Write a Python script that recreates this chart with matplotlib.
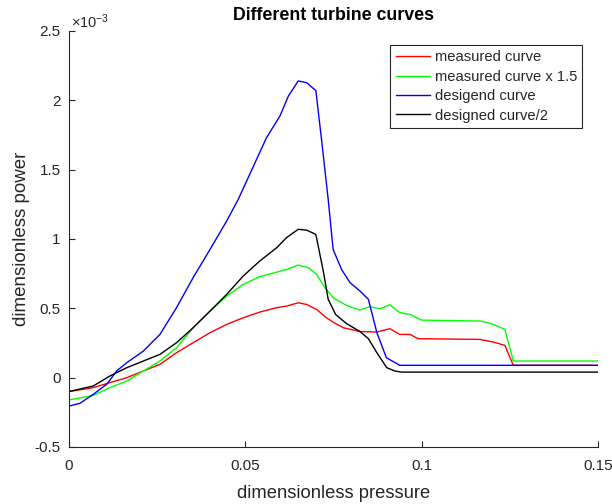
import matplotlib
matplotlib.use("Agg")
import matplotlib.pyplot as plt
from matplotlib.ticker import FuncFormatter

plt.rcParams['font.family'] = ['Liberation Sans', 'DejaVu Sans']
plt.rcParams['axes.unicode_minus'] = False
plt.rcParams['mathtext.fontset'] = 'custom'
plt.rcParams['mathtext.rm'] = 'Liberation Sans'
plt.rcParams['mathtext.it'] = 'Liberation Sans:italic'

# values, power in units of 1e-3
red_x = [0, 0.0069, 0.0116, 0.0164, 0.0211, 0.0258, 0.0305, 0.0352, 0.04, 0.0447,
         0.0494, 0.0541, 0.0589, 0.0617, 0.065, 0.0674, 0.0702, 0.073, 0.0749, 0.0778,
         0.0825, 0.0873, 0.091, 0.0938, 0.0967, 0.099, 0.1165, 0.1203, 0.1236, 0.126, 0.15]
red_y = [-0.10, -0.072, -0.036, 0.0, 0.048, 0.096, 0.18, 0.252, 0.324, 0.384,
         0.432, 0.473, 0.505, 0.516, 0.54, 0.528, 0.492, 0.432, 0.40, 0.36,
         0.333, 0.329, 0.353, 0.312, 0.312, 0.281, 0.276, 0.257, 0.233, 0.089, 0.089]

green_x = [0, 0.0069, 0.0116, 0.0164, 0.0211, 0.0258, 0.0305, 0.0352, 0.04, 0.0447,
           0.0494, 0.0541, 0.0589, 0.0617, 0.065, 0.0679, 0.0702, 0.0726, 0.0749, 0.0787,
           0.0825, 0.0853, 0.0882, 0.091, 0.0938, 0.0967, 0.1, 0.117, 0.1203, 0.1236,
           0.126, 0.15]
green_y = [-0.161, -0.128, -0.072, -0.024, 0.048, 0.12, 0.216, 0.36, 0.48, 0.588,
           0.673, 0.728, 0.761, 0.78, 0.812, 0.793, 0.745, 0.649, 0.577, 0.521,
           0.487, 0.512, 0.497, 0.526, 0.469, 0.456, 0.415, 0.408, 0.384, 0.348,
           0.12, 0.12]

blue_x = [0, 0.0031, 0.0069, 0.0107, 0.0135, 0.0164, 0.0211, 0.0239, 0.0258, 0.0305,
          0.0352, 0.04, 0.0447, 0.048, 0.056, 0.0598, 0.0622, 0.065, 0.0674, 0.07,
          0.0716, 0.0735, 0.0749, 0.0773, 0.0797, 0.0825, 0.0849, 0.0873, 0.09, 0.0938, 0.15]
blue_y = [-0.205, -0.185, -0.12, -0.048, 0.048, 0.108, 0.192, 0.264, 0.312, 0.505,
          0.721, 0.925, 1.129, 1.286, 1.73, 1.886, 2.03, 2.14, 2.127, 2.07,
          1.72, 1.286, 0.925, 0.78, 0.685, 0.625, 0.565, 0.325, 0.144, 0.089, 0.089]

black_x = [0, 0.0069, 0.0116, 0.0164, 0.0211, 0.0258, 0.0305, 0.0352, 0.04, 0.0447,
           0.0494, 0.0541, 0.0589, 0.0617, 0.065, 0.0674, 0.07, 0.0721, 0.0735, 0.0756,
           0.0787, 0.0825, 0.0849, 0.0873, 0.0901, 0.0924, 0.0943, 0.15]
black_y = [-0.10, -0.06, 0.012, 0.072, 0.12, 0.168, 0.252, 0.36, 0.48, 0.60,
           0.733, 0.841, 0.937, 1.01, 1.07, 1.064, 1.033, 0.77, 0.565, 0.456,
           0.39, 0.333, 0.281, 0.18, 0.072, 0.048, 0.04, 0.04]

labels = ['measured curve', 'measured curve x 1.5', 'desigend curve', 'designed curve/2']
x_ticks = [0, 0.05, 0.1, 0.15]
y_ticks = [-0.5, 0, 0.5, 1, 1.5, 2, 2.5]

txt = '#262626'
fig = plt.figure(figsize=(6.12, 5.04), dpi=100)
ax = fig.add_axes([0.1127, 0.1131, 0.8644, 0.8254])

ax.plot(red_x, red_y, color=(1, 0, 0), lw=1.0, label=labels[0])
ax.plot(green_x, green_y, color=(0, 1, 0), lw=1.0, label=labels[1])
ax.plot(blue_x, blue_y, color=(0, 0, 1), lw=1.0, label=labels[2])
ax.plot(black_x, black_y, color='k', lw=1.0, label=labels[3])

ax.set_xlim(0, 0.15)
ax.set_ylim(-0.5, 2.5)
ax.set_xticks(x_ticks)
ax.set_yticks(y_ticks)
ax.xaxis.set_major_formatter(FuncFormatter(lambda v, p: '%g' % v))
ax.yaxis.set_major_formatter(FuncFormatter(lambda v, p: '%g' % v))
ax.tick_params(direction='in', length=4, width=0.8, colors=txt, labelsize=11)
ax.tick_params(axis='x', pad=9)
ax.tick_params(axis='y', pad=6)

for s in ['top', 'right']:
    ax.spines[s].set_visible(False)
for s in ['left', 'bottom']:
    ax.spines[s].set_color(txt)
    ax.spines[s].set_linewidth(0.8)

ax.text(0.004, 1.0, r'$\times10^{-3}$', transform=ax.transAxes, fontsize=10.5,
        color=txt, ha='left', va='bottom')

ax.set_title('Different turbine curves', fontsize=12.8, fontweight='bold', color='black', pad=8)
ax.set_xlabel('dimensionless pressure', fontsize=13.2, color=txt, labelpad=8)
ax.set_ylabel('dimensionless power', fontsize=13.5, color=txt, labelpad=3)

leg = ax.legend(loc='upper right', bbox_to_anchor=(0.970, 0.966), fontsize=10.6,
                handlelength=2.35, handletextpad=0.3, labelspacing=0.37,
                borderpad=0.35, borderaxespad=0, fancybox=False, framealpha=1)
leg.get_frame().set_edgecolor(txt)
leg.get_frame().set_linewidth(0.8)
for t in leg.get_texts():
    t.set_color(txt)

fig.savefig('out.png', dpi=100)
